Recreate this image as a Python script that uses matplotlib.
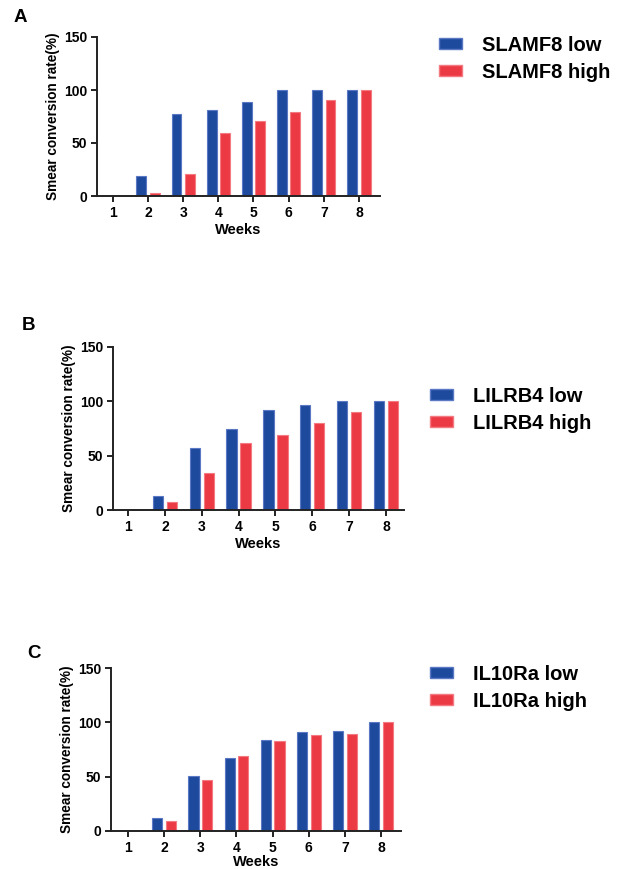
import numpy as np
import matplotlib
matplotlib.use("Agg")
import matplotlib.pyplot as plt
from matplotlib.patches import Patch

plt.rcParams['font.family'] = ['Liberation Sans', 'DejaVu Sans']
plt.rcParams['font.weight'] = 'bold'

weeks = [1, 2, 3, 4, 5, 6, 7, 8]
week_labels = ["1", "2", "3", "4", "5", "6", "7", "8"]

slamf8_low = [0, 19, 77, 81, 89, 100, 100, 100]
slamf8_high = [0, 3, 21, 59, 71, 79, 91, 100]

lilrb4_low = [0, 13, 57, 75, 92, 97, 100, 100]
lilrb4_high = [0, 7, 34, 62, 69, 80, 90, 100]

il10ra_low = [0, 12, 51, 67, 84, 91, 92, 100]
il10ra_high = [0, 9, 47, 69, 83, 88, 89, 100]

panel_letters = ["A", "B", "C"]
legend_low = ["SLAMF8 low", "LILRB4 low", "IL10Ra low"]
legend_high = ["SLAMF8 high", "LILRB4 high", "IL10Ra high"]
y_ticks = [0, 50, 100, 150]
ylabel = "Smear conversion rate(%)"
xlabel = "Weeks"

BLUE = "#1e4a9e"
BLUE_EDGE = "#5a78c4"
RED = "#ec3a45"
RED_EDGE = "#f27a80"

W, H = 623, 869
fig = plt.figure(figsize=(W / 100, H / 100), dpi=100)

def px_axes(l, r, t, b):
    return fig.add_axes([l / W, 1 - b / H, (r - l) / W, (b - t) / H])

# (left, right, top, bottom) in pixels, xlim, letter pos, legend pos
layouts = [
    dict(box=(97, 380, 37, 196), xlim=(0.55, 8.6), letter=(14, 17), leg=(421, 59), xpad=2),
    dict(box=(113, 404, 347, 510), xlim=(0.59, 8.49), letter=(22, 325), leg=(412, 410), xpad=2),
    dict(box=(111, 401, 668, 831), xlim=(0.53, 8.55), letter=(27, 653), leg=(412, 688), xpad=0.5),
]
data = [(slamf8_low, slamf8_high), (lilrb4_low, lilrb4_high), (il10ra_low, il10ra_high)]

x = np.array(weeks, dtype=float)
bw = 0.28
off = 0.19

for i, lay in enumerate(layouts):
    ax = px_axes(*lay["box"])
    low, high = data[i]
    ax.bar(x - off, low, width=bw, color=BLUE, edgecolor=BLUE_EDGE, linewidth=0.8)
    ax.bar(x + off, high, width=bw, color=RED, edgecolor=RED_EDGE, linewidth=0.8)
    ax.set_xlim(*lay["xlim"])
    ax.set_ylim(0, 150)
    ax.set_yticks(y_ticks)
    ax.set_xticks(x)
    ax.set_xticklabels(week_labels)
    for s in ["top", "right"]:
        ax.spines[s].set_visible(False)
    for s in ["left", "bottom"]:
        ax.spines[s].set_linewidth(1.4)
        ax.spines[s].set_color("#222222")
    ax.tick_params(axis="both", direction="out", length=4, width=1.4, color="#222222",
                   labelsize=10, pad=3)
    for lab in ax.get_xticklabels() + ax.get_yticklabels():
        lab.set_fontweight("bold")
    ax.set_ylabel(ylabel, fontsize=9.8, fontweight="bold", labelpad=3)
    ax.set_xlabel(xlabel, fontsize=10.5, fontweight="bold", labelpad=lay["xpad"])

    lx, ly = lay["letter"]
    fig.text(lx / W, 1 - ly / H, panel_letters[i], fontsize=13.5, fontweight="bold",
             va="center", ha="left")

    gx, gy = lay["leg"]
    handles = [Patch(facecolor=BLUE, edgecolor=BLUE_EDGE), Patch(facecolor=RED, edgecolor=RED_EDGE)]
    fig.legend(handles, [legend_low[i], legend_high[i]], loc="center left",
               bbox_to_anchor=(gx / W, 1 - gy / H), frameon=False,
               prop=dict(size=14.5, weight="bold"), handlelength=1.15, handleheight=0.45,
               handletextpad=1.0, labelspacing=0.4)

fig.savefig("out.png", dpi=100)
